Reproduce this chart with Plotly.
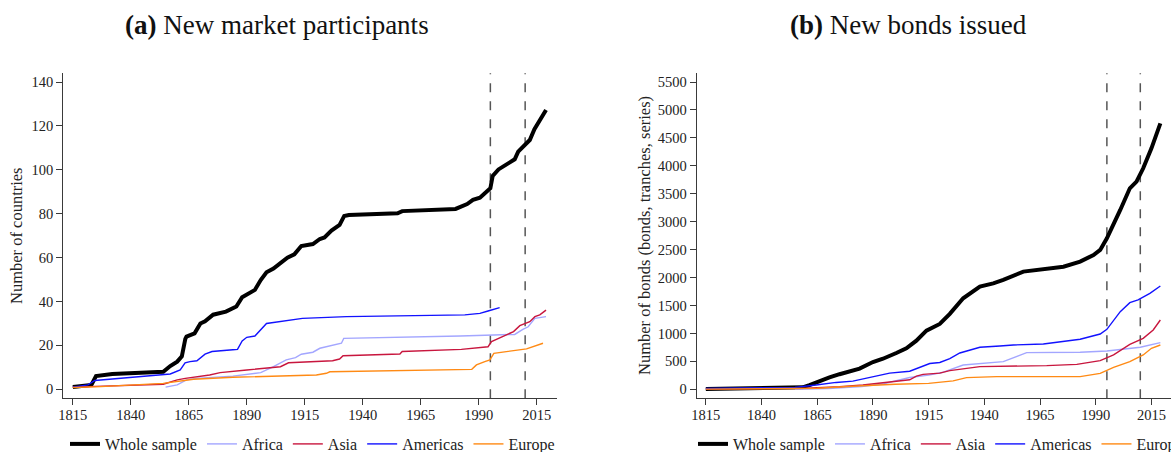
import plotly.graph_objects as go

# ---------------- data ----------------
tick_years = [1815, 1840, 1865, 1890, 1915, 1940, 1965, 1990, 2015]
left_yticks = [0, 20, 40, 60, 80, 100, 120, 140]
right_yticks = [0, 500, 1000, 1500, 2000, 2500, 3000, 3500, 4000, 4500, 5000, 5500]
vlines_years = [1995, 2010]

series_names = ["Whole sample", "Africa", "Asia", "Americas", "Europe"]
series_colors = ["#000000", "#a3a6ff", "#c8163e", "#1212ff", "#ff8a14"]

# (a) New market participants (number of countries)
a_whole_x = [1815, 1821, 1823, 1825, 1832, 1854, 1857, 1860, 1862, 1863.5, 1864, 1867.5, 1870, 1872,
             1875.5, 1881, 1885.5, 1888, 1893.5, 1896, 1898.5, 1901.5, 1904.5, 1907.5, 1910.5, 1913.5,
             1918.5, 1921.5, 1923.5, 1926.5, 1930, 1932, 1934, 1955, 1957, 1980, 1985, 1987.5, 1990.5,
             1992.5, 1995, 1996, 1998.5, 2002, 2005.5, 2007, 2010.5, 2012, 2014, 2017, 2019]
a_whole_y = [1, 2, 2, 6, 7, 8, 10.6, 12.6, 15, 23, 24, 25.5, 30, 31, 34, 35.4, 37.7, 42, 45.3, 49.8,
             53.3, 55, 57.4, 60, 61.5, 65.3, 66.2, 68.5, 69.2, 72.3, 74.9, 79, 79.4, 80.2, 81.2, 82.2,
             84.4, 86.3, 87.3, 89.3, 91.6, 97.2, 100.2, 102.5, 104.8, 108.3, 111.8, 113.6, 118.5, 123.9, 127.3]

a_africa_x = [1855, 1860, 1864, 1868, 1884, 1896, 1901.5, 1907, 1911, 1913.5, 1918.5, 1921.5, 1930.8,
              1931.8, 1982, 2005.5, 2009, 2011.3, 2014.2, 2019]
a_africa_y = [1, 2, 4.3, 5, 6, 7.6, 10.3, 13.4, 14.4, 16, 16.9, 18.7, 21, 23.2, 24.3, 25, 27.3, 28.5, 32.3, 33.1]

a_asia_x = [1815, 1854, 1860, 1863.5, 1874, 1878.5, 1890, 1904.5, 1908, 1927, 1930, 1931.5, 1956, 1957,
            1982.5, 1994, 1995.5, 1998.5, 2005, 2007.7, 2010.6, 2012, 2014.2, 2016.3, 2019]
a_asia_y = [1, 2.3, 4.3, 5, 6.5, 7.6, 8.8, 10.3, 12.1, 13, 13.8, 15.3, 16.1, 17.2, 18.2, 19.4, 21.7,
            23.2, 26.3, 29, 30, 30.8, 33.1, 33.9, 36.1]

a_americas_x = [1815, 1821.5, 1824.5, 1857, 1861.3, 1863.4, 1865.5, 1868.5, 1872, 1875, 1884, 1886, 1888,
                1890, 1893.5, 1896, 1898.5, 1914, 1933, 1984, 1990.5, 1994, 1999]
a_americas_y = [1, 2, 4, 7, 8.8, 12.1, 12.6, 13, 16, 17.2, 18, 18.2, 22, 23.7, 24.3, 27.3, 30, 32.3,
                33.1, 33.9, 34.6, 35.7, 37.2]

a_europe_x = [1815, 1827, 1854, 1860, 1867, 1884, 1913, 1920, 1924.3, 1925.8, 1987, 1989, 1992.6,
              1994.8, 1996.5, 2004.8, 2010.6, 2017.7]
a_europe_y = [0.8, 1.2, 2.7, 3.5, 4.6, 5.5, 6.1, 6.5, 7.3, 8, 9.1, 11.1, 12.6, 13.4, 16.4, 17.5, 18.4, 21]

# (b) New bonds issued (number of bonds)
b_whole_x = [1815, 1830, 1845, 1855, 1858.5, 1861.5, 1866, 1870.5, 1875, 1879.5, 1884, 1890, 1894.5,
             1900.5, 1905, 1909.5, 1914, 1920, 1924.5, 1930.5, 1938, 1944, 1948.5, 1957.5, 1965, 1975.5,
             1983, 1989, 1992, 1995, 2001, 2005.3, 2008.3, 2011.3, 2015, 2019]
b_whole_y = [5, 15, 25, 30, 35, 76, 153, 212, 270, 312, 370, 488, 547, 650, 735, 870, 1050, 1170, 1350,
             1629, 1838, 1897, 1957, 2106, 2136, 2195, 2285, 2404, 2494, 2703, 3210, 3598, 3717, 3956,
             4313, 4761]

b_africa_x = [1855, 1870, 1885, 1895, 1900, 1906.5, 1915, 1921, 1930.5, 1948.5, 1959, 1983, 1995, 2010, 2019]
b_africa_y = [0, 15, 50, 100, 150, 212, 253, 300, 435, 495, 656, 662, 686, 752, 835]

b_asia_x = [1815, 1860, 1875, 1885.5, 1894.5, 1906.5, 1909.5, 1912.5, 1920, 1924.5, 1938, 1968, 1981.5,
            1992, 1998, 2005.3, 2011.3, 2015.8, 2019]
b_asia_y = [5, 20, 45, 76, 118, 170, 235, 268, 290, 334, 406, 424, 447, 513, 615, 805, 913, 1062, 1241]

b_americas_x = [1815, 1855, 1864.5, 1873.5, 1881, 1888.5, 1893, 1897.5, 1906.5, 1909.5, 1915.5, 1920,
                1924.5, 1929, 1938, 1947, 1953, 1966.5, 1977, 1983, 1992, 1995, 2001, 2005.3, 2009,
                2014.3, 2019]
b_americas_y = [15, 35, 76, 123, 147, 212, 257, 290, 323, 370, 462, 480, 550, 650, 752, 776, 793, 811,
                865, 895, 990, 1074, 1390, 1551, 1599, 1718, 1849]

b_europe_x = [1815, 1855, 1865, 1883, 1893, 1900, 1915, 1921, 1926, 1932, 1945.5, 1983, 1992, 1998,
              2005.3, 2011.3, 2015, 2019]
b_europe_y = [3, 10, 18, 59, 80, 90, 106, 123, 150, 209, 227, 227, 286, 394, 495, 615, 734, 793]

# ---------------- figure ----------------
W, H = 1171, 452
FONT = "Liberation Serif"

fig = go.Figure()

panel_a = [(a_whole_x, a_whole_y), (a_africa_x, a_africa_y), (a_asia_x, a_asia_y),
           (a_americas_x, a_americas_y), (a_europe_x, a_europe_y)]
panel_b = [(b_whole_x, b_whole_y), (b_africa_x, b_africa_y), (b_asia_x, b_asia_y),
           (b_americas_x, b_americas_y), (b_europe_x, b_europe_y)]

for (xs, ys), name, col in zip(panel_a, series_names, series_colors):
    fig.add_trace(go.Scatter(x=xs, y=ys, mode="lines", name=name,
                             line=dict(color=col, width=4 if name == "Whole sample" else 1.4),
                             xaxis="x", yaxis="y", legend="legend"))
for (xs, ys), name, col in zip(panel_b, series_names, series_colors):
    fig.add_trace(go.Scatter(x=xs, y=ys, mode="lines", name=name,
                             line=dict(color=col, width=4 if name == "Whole sample" else 1.4),
                             xaxis="x2", yaxis="y2", legend="legend2"))

ydom = [53.7 / H, 378.7 / H]
axis_common = dict(showline=True, linecolor="#3a3a3a", linewidth=1.3, ticks="outside", ticklen=6,
                   tickwidth=1, tickcolor="#3a3a3a", showgrid=False, zeroline=False,
                   tickfont=dict(family=FONT, size=14.5, color="#222222"), automargin=False)

xr = [1810.9, 2023.6]
fig.update_layout(
    xaxis=dict(domain=[63.3 / W, 556.7 / W], range=xr, tickvals=tick_years, anchor="y",
               ticklabelstandoff=-3, **axis_common),
    yaxis=dict(domain=ydom, range=[-4.1, 144], tickvals=left_yticks, anchor="x", **axis_common),
    xaxis2=dict(domain=[696.7 / W, 1170.6 / W], range=xr, tickvals=tick_years, anchor="y2",
                ticklabelstandoff=-3, **axis_common),
    yaxis2=dict(domain=ydom, range=[-161, 5656], tickvals=right_yticks, anchor="x2", **axis_common),
)

for yr in vlines_years:
    for xref, yref in (("x", "y domain"), ("x2", "y2 domain")):
        fig.add_shape(type="line", xref=xref, yref=yref, x0=yr, x1=yr, y0=0, y1=1,
                      line=dict(color="#555555", width=1.5, dash="dash"), layer="below")

ann_font = dict(family=FONT, size=16.5, color="#222222")
title_font = dict(family=FONT, size=27, color="#111111")
fig.add_annotation(x=277 / W, y=(H - 25) / H, xref="paper", yref="paper", showarrow=False,
                   text="<b>(a)</b> New market participants", font=title_font,
                   xanchor="center", yanchor="middle")
fig.add_annotation(x=908.5 / W, y=(H - 25) / H, xref="paper", yref="paper", showarrow=False,
                   text="<b>(b)</b> New bonds issued", font=title_font,
                   xanchor="center", yanchor="middle")
fig.add_annotation(x=17 / W, y=(H - 236) / H, xref="paper", yref="paper", showarrow=False,
                   text="Number of countries", textangle=-90, font=ann_font,
                   xanchor="center", yanchor="middle")
fig.add_annotation(x=645 / W, y=(H - 236) / H, xref="paper", yref="paper", showarrow=False,
                   text="Number of bonds (bonds, tranches, series)", textangle=-90, font=ann_font,
                   xanchor="center", yanchor="middle")

leg_common = dict(orientation="h", yanchor="middle", y=(H - 444) / H, xanchor="left",
                  font=dict(family=FONT, size=16, color="#222222"), bgcolor="rgba(0,0,0,0)",
                  traceorder="normal", itemclick=False, itemdoubleclick=False)
fig.update_layout(
    legend=dict(x=65 / W, **leg_common),
    legend2=dict(x=693 / W, **leg_common),
)

fig.update_layout(width=W, height=H, margin=dict(l=0, r=0, t=0, b=0, autoexpand=False),
                  paper_bgcolor="white", plot_bgcolor="white", showlegend=True)

fig.write_html("out.html", config={"displayModeBar": False},
               post_script="document.body.style.margin='0px';")
